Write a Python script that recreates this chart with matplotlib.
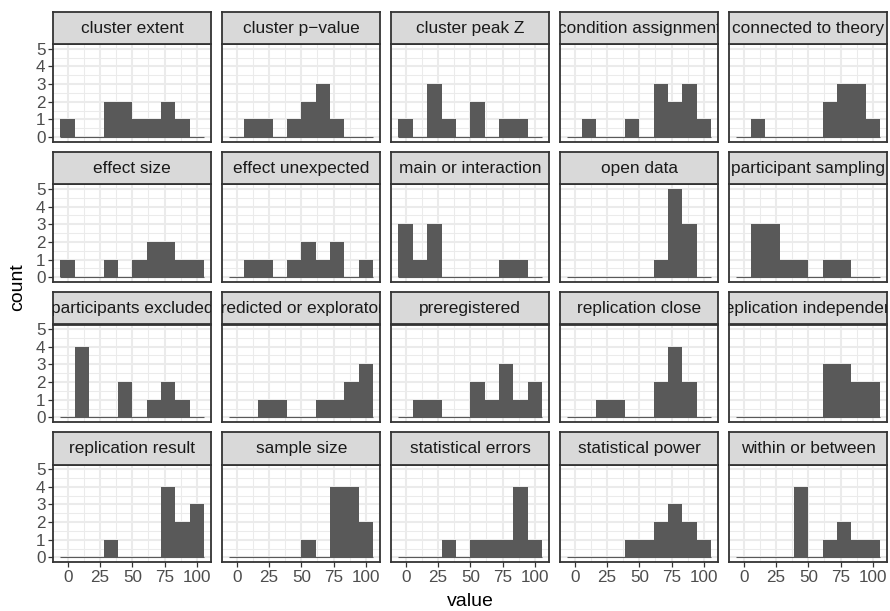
import numpy as np
import matplotlib
matplotlib.use("Agg")
import matplotlib.pyplot as plt

plt.rcParams['font.family'] = ['Liberation Sans', 'DejaVu Sans']

# facet names (in display order) and histogram counts per bin
facets = ["cluster extent", "cluster p\u2212value", "cluster peak Z", "condition assignment", "connected to theory",
          "effect size", "effect unexpected", "main or interaction", "open data", "participant sampling",
          "participants excluded", "predicted or exploratory", "preregistered", "replication close", "replication independent",
          "replication result", "sample size", "statistical errors", "statistical power", "within or between"]

bin_centers = [0, 11.11, 22.22, 33.33, 44.44, 55.56, 66.67, 77.78, 88.89, 100]

cluster_extent = [1, 0, 0, 2, 2, 1, 1, 2, 1, 0]
cluster_pvalue = [0, 1, 1, 0, 1, 2, 3, 1, 0, 0]
cluster_peak_z = [1, 0, 3, 1, 0, 2, 0, 1, 1, 0]
condition_assignment = [0, 1, 0, 0, 1, 0, 3, 2, 3, 1]
connected_to_theory = [0, 1, 0, 0, 0, 0, 2, 3, 3, 1]
effect_size = [1, 0, 0, 1, 0, 1, 2, 2, 1, 1]
effect_unexpected = [0, 1, 1, 0, 1, 2, 1, 2, 0, 1]
main_or_interaction = [3, 1, 3, 0, 0, 0, 0, 1, 1, 0]
open_data = [0, 0, 0, 0, 0, 0, 1, 5, 3, 0]
participant_sampling = [0, 3, 3, 1, 1, 0, 1, 1, 0, 0]
participants_excluded = [0, 4, 0, 0, 2, 0, 1, 2, 1, 0]
predicted_or_exploratory = [0, 0, 1, 1, 0, 0, 1, 1, 2, 3]
preregistered = [0, 1, 1, 0, 0, 2, 1, 3, 1, 2]
replication_close = [0, 0, 1, 1, 0, 0, 2, 4, 2, 0]
replication_independent = [0, 0, 0, 0, 0, 0, 3, 3, 2, 2]
replication_result = [0, 0, 0, 1, 0, 0, 0, 4, 2, 3]
sample_size = [0, 0, 0, 0, 0, 1, 0, 4, 4, 2]
statistical_errors = [0, 0, 0, 1, 0, 1, 1, 1, 4, 1]
statistical_power = [0, 0, 0, 0, 1, 1, 2, 3, 2, 1]
within_or_between = [0, 0, 0, 0, 4, 0, 1, 2, 1, 1]

all_counts = [cluster_extent, cluster_pvalue, cluster_peak_z, condition_assignment, connected_to_theory,
              effect_size, effect_unexpected, main_or_interaction, open_data, participant_sampling,
              participants_excluded, predicted_or_exploratory, preregistered, replication_close, replication_independent,
              replication_result, sample_size, statistical_errors, statistical_power, within_or_between]

x_ticks = [0, 25, 50, 75, 100]
y_ticks = [0, 1, 2, 3, 4, 5]

W, H = 890, 611
fig = plt.figure(figsize=(W / 100, H / 100), dpi=100)

bar_color = '#595959'
grid_color = '#EBEBEB'
border_color = '#333333'

left0, col_step, pw = 53.3, 169.0, 158.0
top0, row_step, strip_h, ph = 11.8, 140.1, 32.5, 97.3

bw = bin_centers[1] - bin_centers[0]
x_lo = bin_centers[0] - bw / 2
x_hi = bin_centers[-1] + bw / 2
span = x_hi - x_lo

for i, (name, counts) in enumerate(zip(facets, all_counts)):
    r, c = divmod(i, 5)
    left = left0 + c * col_step
    top = top0 + r * row_step
    ptop = top + strip_h
    ax = fig.add_axes([left / W, 1 - (ptop + ph) / H, pw / W, ph / H])
    sax = fig.add_axes([left / W, 1 - ptop / H, pw / W, strip_h / H])

    ax.set_xlim(x_lo - 0.05 * span, x_hi + 0.05 * span)
    ax.set_ylim(-0.25, 5.25)
    ax.set_xticks(x_ticks)
    ax.set_yticks(y_ticks)
    ax.set_xticks([12.5, 37.5, 62.5, 87.5], minor=True)
    ax.set_yticks([0.5, 1.5, 2.5, 3.5, 4.5], minor=True)
    ax.grid(True, which='major', color=grid_color, lw=1.5)
    ax.grid(True, which='minor', color=grid_color, lw=0.75)
    ax.set_axisbelow(True)
    ax.tick_params(which='minor', length=0)
    ax.tick_params(which='major', length=3.6, width=0.9, color=border_color,
                   labelsize=12.3, labelcolor='#4D4D4D', pad=2)
    for sp in ax.spines.values():
        sp.set_color(border_color)
        sp.set_linewidth(1.3)

    ax.hlines(0, x_lo, x_hi, color=bar_color, lw=0.8, zorder=2)
    ax.bar(bin_centers, counts, width=bw, color=bar_color, linewidth=0, zorder=3)

    if c != 0:
        ax.tick_params(axis='y', left=False, labelleft=False)
    if r != 3:
        ax.tick_params(axis='x', bottom=False, labelbottom=False)

    sax.set_xticks([])
    sax.set_yticks([])
    sax.set_facecolor('#D9D9D9')
    for sp in sax.spines.values():
        sp.set_color(border_color)
        sp.set_linewidth(1.3)
    t = sax.text(0.5, 0.5, name, ha='center', va='center', fontsize=12.4,
                 color='#1A1A1A', transform=sax.transAxes, clip_on=True)
    t.set_clip_box(sax.bbox)

fig.text(470 / W, 1 - 601 / H, 'value', ha='center', va='center', fontsize=14)
fig.text(18 / W, 1 - 287 / H, 'count', ha='center', va='center', fontsize=14, rotation=90)

fig.savefig('out.png', dpi=100, facecolor='white')
